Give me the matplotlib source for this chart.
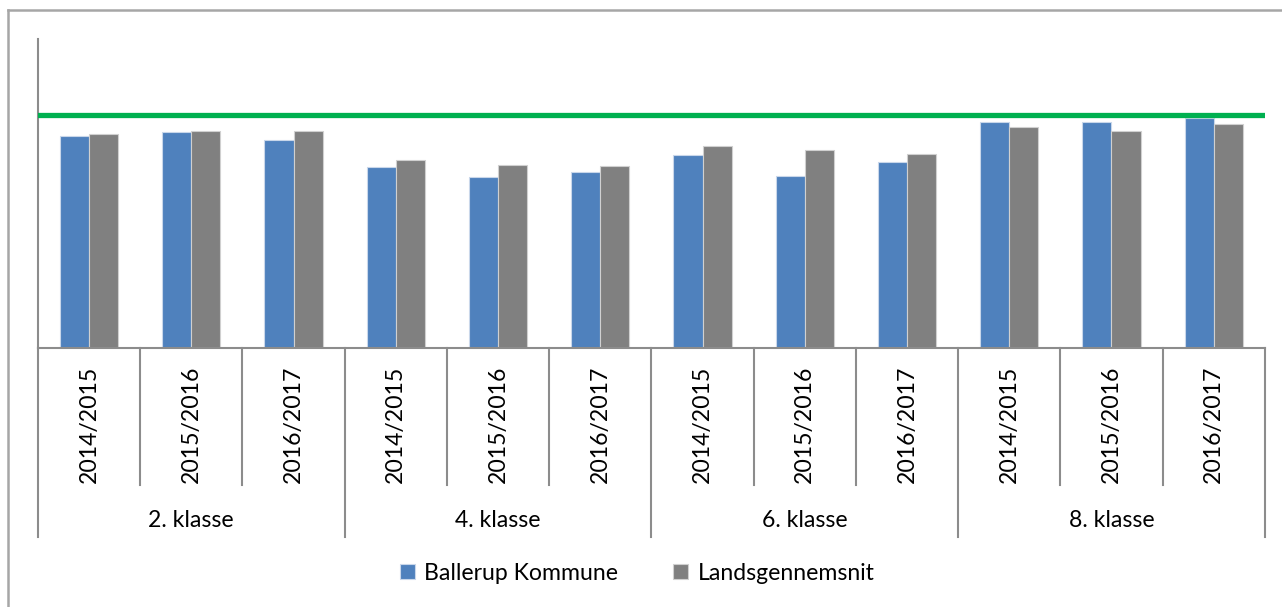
"""Ballerup Kommune vs landsgennemsnit, grouped bars per klasse."""
import numpy as np
import matplotlib
matplotlib.use("Agg")
import matplotlib.pyplot as plt
from matplotlib.lines import Line2D

plt.rcParams["font.family"] = ["Lato", "DejaVu Sans"]

groups = ["2. klasse", "4. klasse", "6. klasse", "8. klasse"]
years = ["2014/2015", "2015/2016", "2016/2017"]
ballerup = [68.7, 69.9, 67.2, 58.5, 55.2, 57.0, 62.5, 55.6, 60.3, 73.0, 73.2, 74.5]
lands = [69.4, 70.2, 70.1, 60.8, 59.3, 58.8, 65.3, 64.0, 62.7, 71.5, 70.2, 72.5]
target = 75.3
series_names = ["Ballerup Kommune", "Landsgennemsnit"]

BLUE = "#4f81bd"
GREY = "#808080"
AXCOL = "#8c8c8c"
FS = 16.6

fig = plt.figure(figsize=(12.82, 6.07), dpi=100)
ax = fig.add_axes([0.0296, 0.4267, 0.957, 0.509])

n = len(ballerup)
x = np.arange(n)
w = 0.285
ax.bar(x - w / 2, ballerup, w, color=BLUE, edgecolor="#c9d7ea", linewidth=0.8,
       label=series_names[0], zorder=2)
ax.bar(x + w / 2, lands, w, color=GREY, edgecolor="#d0d0d0", linewidth=0.8,
       label=series_names[1], zorder=2)
ax.axhline(target, color="#00b050", linewidth=3.8, zorder=3)

ax.set_xlim(-0.5, n - 0.5)
ax.set_ylim(0, 100)
ax.set_xticks([])
ax.set_yticks([])
for s in ["top", "right"]:
    ax.spines[s].set_visible(False)
for s in ["left", "bottom"]:
    ax.spines[s].set_color(AXCOL)
    ax.spines[s].set_linewidth(1.5)

# category axis: separators and labels
trans = ax.get_xaxis_transform()
for i in range(n + 1):
    bottom = -0.612 if i % 3 == 0 else -0.443
    ax.add_line(Line2D([i - 0.5, i - 0.5], [0, bottom], transform=trans,
                       color=AXCOL, linewidth=1.5, clip_on=False))
for i in range(n):
    ax.text(i, -0.248, years[i % 3], transform=trans, rotation=90,
            ha="center", va="center", fontsize=FS)
for g, name in enumerate(groups):
    ax.text(3 * g + 1, -0.557, name, transform=trans, ha="center",
            va="center", fontsize=FS)

fig.legend(loc="center", bbox_to_anchor=(0.497, 0.056), ncol=2, frameon=False,
           fontsize=FS, handlelength=0.65, handleheight=0.65,
           handletextpad=0.4, columnspacing=2.4)

# chart area border (partly outside the picture)
fig.add_artist(Line2D([0.0062, 1.0], [0.983, 0.983], color="#a6a6a6", linewidth=1.8))
fig.add_artist(Line2D([0.0062, 0.0062], [0.0, 0.983], color="#a6a6a6", linewidth=1.8))

fig.savefig("out.png", dpi=100)
